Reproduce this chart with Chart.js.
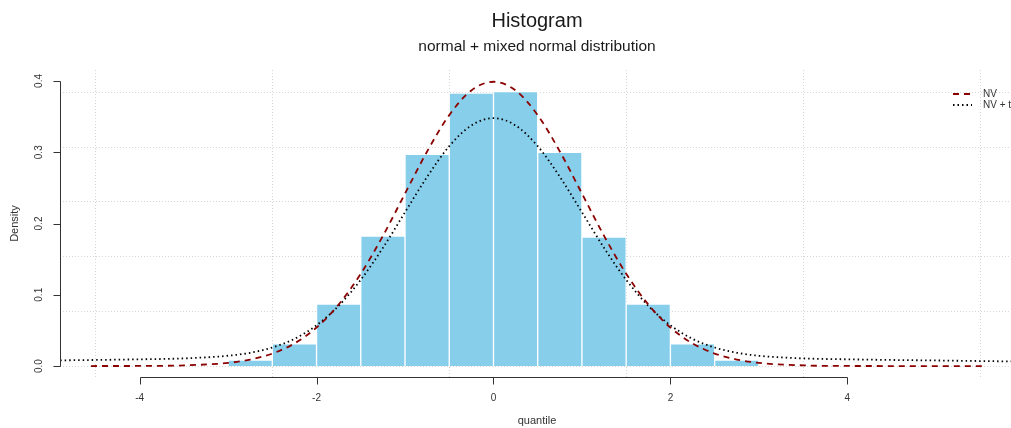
<!DOCTYPE html>
<html>
<head>
<meta charset="utf-8">
<title>Histogram</title>
<script src="https://cdn.jsdelivr.net/npm/chart.js@4.4.1/dist/chart.umd.min.js"></script>
<style>
  html, body { margin: 0; padding: 0; background: #fff; overflow: hidden; }
  canvas { display: block; }
</style>
</head>
<body>
<canvas id="histChart" width="1011" height="428"></canvas>
<script>
// histogram bins (width 0.5) and their densities
const binCenters = [-2.75, -2.25, -1.75, -1.25, -0.75, -0.25, 0.25, 0.75, 1.25, 1.75, 2.25, 2.75];
const binDensity = [0.0084, 0.031, 0.087, 0.1825, 0.297, 0.383, 0.385, 0.300, 0.181, 0.087, 0.031, 0.0084];

// NV curve (dashed)
const nvX = [-4.55, -4, -3.5, -3, -2.75, -2.5, -2.25, -2, -1.75, -1.5, -1.25, -1, -0.75, -0.5, -0.25, 0,
             0.25, 0.5, 0.75, 1, 1.25, 1.5, 1.75, 2, 2.25, 2.5, 2.75, 3, 3.5, 4, 4.5, 5, 5.53];
const nvY = [0.0000, 0.0001, 0.0009, 0.0044, 0.0091, 0.0175, 0.0317, 0.054, 0.0863, 0.1295, 0.1826, 0.242, 0.3011, 0.3521, 0.3867, 0.3989,
             0.3867, 0.3521, 0.3011, 0.242, 0.1826, 0.1295, 0.0863, 0.054, 0.0317, 0.0175, 0.0091, 0.0044, 0.0009, 0.0001, 0.0000, 0.0000, 0.0000];

// NV + t curve (dotted)
const mixX = [-5, -4.5, -4, -3.5, -3, -2.75, -2.5, -2.25, -2, -1.75, -1.5, -1.25, -1, -0.75, -0.5, -0.25, 0,
              0.25, 0.5, 0.75, 1, 1.25, 1.5, 1.75, 2, 2.25, 2.5, 2.75, 3, 3.5, 4, 4.5, 5, 5.5, 6];
const mixY = [0.0078, 0.0085, 0.0094, 0.0107, 0.0144, 0.0186, 0.026, 0.0381, 0.0572, 0.0845, 0.121, 0.1658, 0.2158, 0.2655, 0.3085, 0.3376, 0.3479,
              0.3376, 0.3085, 0.2655, 0.2158, 0.1658, 0.121, 0.0845, 0.0572, 0.0381, 0.026, 0.0186, 0.0144, 0.0107, 0.0094, 0.0085, 0.0078, 0.0070, 0.0062];

const xTicks = [-4, -2, 0, 2, 4];
const yTicks = [0, 0.1, 0.2, 0.3, 0.4];
const yTickLabels = ['0.0', '0.1', '0.2', '0.3', '0.4'];
const gridX = [-4.5, -2.5, -0.5, 1.5, 3.5, 5.5];
const gridY = [0, 0.077, 0.154, 0.231, 0.308, 0.385];

const legendItems = [
  { label: 'NV', color: '#8b0000', dash: [6, 5] },
  { label: 'NV + t', color: '#000000', dash: [1.5, 3] }
];

const FONT = "'Liberation Sans', Arial, Helvetica, sans-serif";

function toPoints(xs, ys) {
  return xs.map((x, i) => ({ x: x, y: ys[i] }));
}

// dotted background grid, drawn under the bars
const gridPlugin = {
  id: 'dottedGrid',
  beforeDatasetsDraw(chart) {
    const { ctx, chartArea: a, scales: { x, y } } = chart;
    ctx.save();
    ctx.strokeStyle = '#d6d6d6';
    ctx.lineWidth = 1;
    ctx.setLineDash([1, 2]);
    gridX.forEach(v => {
      const px = Math.round(x.getPixelForValue(v)) + 0.5;
      ctx.beginPath();
      ctx.moveTo(px, a.top);
      ctx.lineTo(px, a.bottom);
      ctx.stroke();
    });
    gridY.forEach(v => {
      const py = Math.round(y.getPixelForValue(v)) + 0.5;
      ctx.beginPath();
      ctx.moveTo(a.left, py);
      ctx.lineTo(a.right, py);
      ctx.stroke();
    });
    ctx.restore();
  }
};

// axes, titles and legend in base-graphics style
const framePlugin = {
  id: 'frame',
  afterDraw(chart) {
    const { ctx, chartArea: a, scales: { x, y } } = chart;
    ctx.save();
    ctx.setLineDash([]);
    ctx.strokeStyle = '#333';
    ctx.fillStyle = '#333';
    ctx.lineWidth = 1;

    // x axis
    const axY = a.bottom + 0.5;
    const x0 = Math.round(x.getPixelForValue(xTicks[0])) + 0.5;
    const x1 = Math.round(x.getPixelForValue(xTicks[xTicks.length - 1])) + 0.5;
    ctx.beginPath();
    ctx.moveTo(x0, axY);
    ctx.lineTo(x1, axY);
    xTicks.forEach(v => {
      const px = Math.round(x.getPixelForValue(v)) + 0.5;
      ctx.moveTo(px, axY);
      ctx.lineTo(px, axY + 7);
    });
    ctx.stroke();
    ctx.font = '10px ' + FONT;
    ctx.textAlign = 'center';
    ctx.textBaseline = 'middle';
    xTicks.forEach(v => {
      ctx.fillText(String(v), x.getPixelForValue(v), 398);
    });

    // y axis
    const axX = a.left + 0.5;
    const y0 = Math.round(y.getPixelForValue(yTicks[0])) + 0.5;
    const y1 = Math.round(y.getPixelForValue(yTicks[yTicks.length - 1])) + 0.5;
    ctx.beginPath();
    ctx.moveTo(axX, y0);
    ctx.lineTo(axX, y1);
    yTicks.forEach(v => {
      const py = Math.round(y.getPixelForValue(v)) + 0.5;
      ctx.moveTo(axX, py);
      ctx.lineTo(axX - 7, py);
    });
    ctx.stroke();
    yTicks.forEach((v, i) => {
      ctx.save();
      ctx.translate(39, y.getPixelForValue(v));
      ctx.rotate(-Math.PI / 2);
      ctx.fillText(yTickLabels[i], 0, 0);
      ctx.restore();
    });

    // axis titles
    ctx.font = '11px ' + FONT;
    ctx.fillText('quantile', 537, 421);
    ctx.save();
    ctx.translate(15, (a.top + a.bottom) / 2);
    ctx.rotate(-Math.PI / 2);
    ctx.fillText('Density', 0, 0);
    ctx.restore();

    // title + subtitle
    ctx.fillStyle = '#1a1a1a';
    ctx.font = '20px ' + FONT;
    ctx.fillText('Histogram', 537, 21);
    ctx.font = '15.5px ' + FONT;
    ctx.fillText('normal + mixed normal distribution', 537, 47);

    // legend
    ctx.font = '10px ' + FONT;
    ctx.textAlign = 'left';
    legendItems.forEach((item, i) => {
      const ly = 94 + i * 11;
      ctx.strokeStyle = item.color;
      ctx.lineWidth = 2;
      ctx.setLineDash(item.dash);
      ctx.beginPath();
      ctx.moveTo(953, ly);
      ctx.lineTo(972, ly);
      ctx.stroke();
      ctx.fillStyle = '#333';
      ctx.fillText(item.label, 983, ly);
    });
    ctx.restore();
  }
};

new Chart(document.getElementById('histChart'), {
  type: 'bar',
  data: {
    datasets: [
      {
        type: 'line',
        label: 'NV',
        data: toPoints(nvX, nvY),
        borderColor: '#8b0000',
        borderWidth: 1.8,
        borderDash: [6, 5],
        pointRadius: 0,
        fill: false,
        cubicInterpolationMode: 'monotone',
        order: 1
      },
      {
        type: 'line',
        label: 'NV + t',
        data: toPoints(mixX, mixY),
        borderColor: '#000000',
        borderWidth: 1.8,
        borderDash: [1.5, 3],
        pointRadius: 0,
        fill: false,
        cubicInterpolationMode: 'monotone',
        order: 2
      },
      {
        type: 'bar',
        label: 'Histogram',
        data: toPoints(binCenters, binDensity),
        backgroundColor: '#87ceeb',
        borderColor: '#ffffff',
        borderWidth: 1,
        barPercentage: 1,
        categoryPercentage: 1,
        order: 3
      }
    ]
  },
  options: {
    responsive: false,
    devicePixelRatio: 1,
    animation: false,
    layout: {
      padding: { left: 60, top: 70, right: 0, bottom: 51 }
    },
    plugins: {
      legend: { display: false },
      title: { display: false },
      tooltip: { enabled: false }
    },
    scales: {
      x: {
        type: 'linear',
        display: false,
        offset: false,
        min: -4.9,
        max: 5.85,
        ticks: { stepSize: 1 }
      },
      y: {
        type: 'linear',
        display: false,
        min: -0.0154,
        max: 0.4154
      }
    }
  },
  plugins: [gridPlugin, framePlugin]
});
</script>
</body>
</html>
